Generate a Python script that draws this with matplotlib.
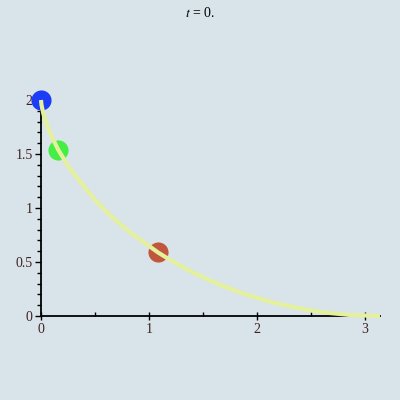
import matplotlib
matplotlib.use("Agg")
import matplotlib.pyplot as plt
from matplotlib.ticker import MultipleLocator

plt.rcParams["mathtext.fontset"] = "stix"

# Curve
curve_x = [0.0, 0.0045, 0.0206, 0.045, 0.083, 0.159, 0.268, 0.503, 0.653, 0.826, 1.091,
           1.237, 1.392, 1.554, 1.725, 1.902, 2.084, 2.273, 2.465, 2.661, 2.859, 3.1416]
curve_y = [2.0, 1.955, 1.878, 1.796, 1.697, 1.540, 1.362, 1.071, 0.921, 0.773, 0.584,
           0.495, 0.411, 0.334, 0.263, 0.199, 0.143, 0.096, 0.058, 0.029, 0.010, 0.0]

# Balls
ball_x = [0.0, 0.155, 1.088]
ball_y = [2.0, 1.54, 0.59]
ball_colors = ["#1c3cf5", "#44ee44", "#c0573c"]

x_ticks = [0, 1, 2, 3]
y_ticks = [0, 0.5, 1, 1.5, 2]
y_ticklabels = ["0", "0.5", "1", "1.5", "2"]

bg = "#d9e4ea"
fig = plt.figure(figsize=(4, 4), dpi=100, facecolor=bg)
ax = fig.add_axes([0.1025, 0.21, 0.8475, 0.54], facecolor=bg)

for x, y, c in zip(ball_x, ball_y, ball_colors):
    ax.scatter([x], [y], s=210, color=c, zorder=3, clip_on=False, linewidths=0)
ax.plot(curve_x, curve_y, color="#e4f09c", lw=3, zorder=4, clip_on=False,
        solid_capstyle="butt")

ax.set_xlim(0, 3.1416)
ax.set_ylim(0, 2)
for s in ["top", "right"]:
    ax.spines[s].set_visible(False)
for s in ["left", "bottom"]:
    ax.spines[s].set_linewidth(1.3)
    ax.spines[s].set_zorder(2)

ax.set_xticks(x_ticks)
ax.set_xticklabels([str(v) for v in x_ticks])
ax.set_yticks(y_ticks)
ax.set_yticklabels(y_ticklabels)
ax.xaxis.set_minor_locator(MultipleLocator(0.5))
ax.yaxis.set_minor_locator(MultipleLocator(0.1))
ax.tick_params(axis="x", which="major", direction="inout", length=6, width=1, pad=2)
ax.tick_params(axis="x", which="minor", direction="in", length=3, width=1)
ax.tick_params(axis="y", which="major", direction="out", length=4, width=1, pad=2)
ax.tick_params(axis="y", which="minor", direction="out", length=3, width=1)
for lab in ax.get_xticklabels() + ax.get_yticklabels():
    lab.set_fontfamily("Liberation Serif")
    lab.set_fontsize(10)
    lab.set_color("#402020")

fig.text(0.5, 0.967, "$t$ = 0.", ha="center", va="center", fontsize=10,
         family="Liberation Serif")

fig.savefig("out.png", dpi=100, facecolor=bg)
